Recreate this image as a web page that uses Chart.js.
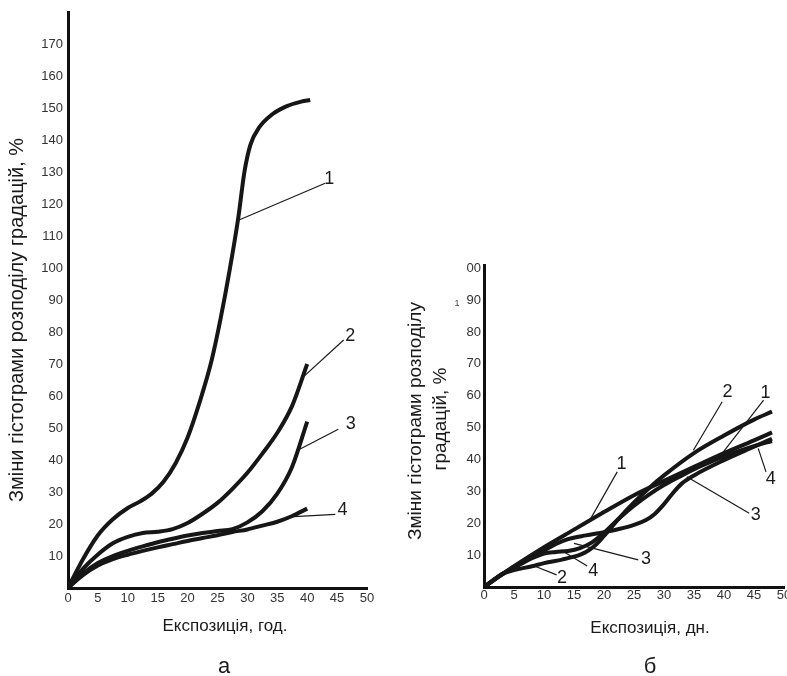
<!DOCTYPE html>
<html>
<head>
<meta charset="utf-8">
<script src="https://cdn.jsdelivr.net/npm/chart.js@4"></script>
<style>
  html, body { margin: 0; padding: 0; background: #fff; overflow: hidden; width: 787px; height: 676px; }
  #chart-a { position: absolute; left: 0; top: 0; }
  #chart-b { position: absolute; left: 395px; top: 0; }
</style>
</head>
<body>
<canvas id="chart-a" width="395" height="676"></canvas>
<canvas id="chart-b" width="396" height="676"></canvas>
<script>
// Shared tick values
const xTicks = [0, 5, 10, 15, 20, 25, 30, 35, 40, 45, 50];
const yTicksA = [10, 20, 30, 40, 50, 60, 70, 80, 90, 100, 110, 120, 130, 140, 150, 160, 170];
const yTicksB = [10, 20, 30, 40, 50, 60, 70, 80, 90, 100];

// Panel "а": exposure in hours
const a1x = [0, 2.5, 5, 7.5, 10, 12, 14, 16, 18, 20, 22, 24, 25.5, 27, 28.5, 29.5, 30.5, 32, 34, 36.5, 39, 40.5];
const a1y = [0, 9, 16.5, 21.5, 25, 27, 29.5, 33.3, 39, 47, 58, 71, 84, 99, 116, 130, 138.5, 144, 147.8, 150.5, 152, 152.5];
const a2x = [0, 2.5, 5, 7.5, 10, 12.5, 15, 17.5, 20, 22.5, 25, 27.5, 30, 32.5, 35, 37.5, 40];
const a2y = [0, 6, 10.5, 14, 16, 17.2, 17.6, 18.4, 20.3, 23.2, 26.6, 31, 36, 42, 48.5, 57, 70];
const a3x = [0, 2.5, 5, 7.5, 10, 12.5, 15, 17.5, 20, 22.5, 25, 27.5, 30, 32.5, 35, 37.5, 40];
const a3y = [0, 4.5, 7.8, 10, 11.6, 13, 14.3, 15.4, 16.4, 17.2, 17.8, 18.4, 20.5, 24, 29.5, 38, 52];
const a4x = [0, 2.5, 5, 7.5, 10, 12.5, 15, 17.5, 20, 22.5, 25, 27.5, 30, 32.5, 35, 37.5, 40];
const a4y = [0, 4, 7, 9, 10.4, 11.6, 12.7, 13.7, 14.7, 15.6, 16.5, 17.5, 18.3, 19.5, 20.7, 22.5, 24.8];

// Panel "б": exposure in days
const b1x = [0, 5, 10, 15, 20, 25, 30, 35, 40, 45, 48];
const b1y = [0, 6.5, 12.5, 18, 23.5, 28.8, 33.3, 37.7, 42, 46, 48.5];
const b2x = [0, 3, 5, 8, 10, 13, 15, 17, 18.5, 20, 22.5, 25, 27.5, 30, 35, 40, 45, 48];
const b2y = [0, 4, 5.3, 6.5, 7.5, 8.6, 9.5, 11, 13, 16, 21.5, 26.5, 31, 35, 42, 47.5, 52.5, 55];
const b3x = [0, 3, 5, 8, 10, 12, 14, 17, 20, 22.5, 25, 27, 28.5, 30, 31.5, 33, 35, 40, 45, 48];
const b3y = [0, 4, 6.2, 9.5, 11.5, 13.5, 15, 16.2, 17.2, 18.2, 19.5, 21, 23, 26, 29.5, 32.5, 35, 39.8, 44, 46.5];
const b4x = [0, 3, 5, 8, 10, 12, 14, 16, 18, 20, 22.5, 25, 27.5, 30, 33, 36, 40, 45, 48];
const b4y = [0, 4, 6, 9, 10.5, 11, 11.3, 12.2, 14, 17, 21.5, 25.5, 29, 32, 35, 37.8, 41, 44.2, 45.8];

// Curve numbers with leader lines (data units)
const notesA = [
    { text: '1', from: [28.6, 115], to: [43.0, 126.5], at: [43.7, 127.8] },
    { text: '2', from: [38.9, 65.2], to: [46.1, 77.5], at: [47.2, 78.6] },
    { text: '3', from: [38.5, 43.1], to: [45.2, 49.6], at: [47.3, 51.1] },
    { text: '4', from: [37.8, 22.3], to: [44.7, 23.0], at: [45.9, 24.4] },
];
const notesB = [
    { text: '1', from: [17.5, 20.5], to: [22.2, 36.1], at: [22.9, 38.6] },
    { text: '2', from: [34.9, 42.9], to: [39.7, 58.1], at: [40.6, 61.2] },
    { text: '1', from: [39.7, 41.9], to: [46.6, 58.6], at: [46.9, 60.7] },
    { text: '4', from: [45.7, 43.5], to: [47.0, 36.1], at: [47.8, 33.9] },
    { text: '3', from: [33.8, 34.6], to: [44.2, 23.1], at: [45.3, 22.6] },
    { text: '3', from: [15.0, 13.7], to: [25.7, 8.5], at: [27.0, 8.8] },
    { text: '4', from: [12.8, 11.6], to: [17.2, 6.6], at: [18.2, 5.0] },
    { text: '2', from: [8.4, 6.6], to: [12.1, 3.8], at: [13.0, 2.7] },
];

const FONT = '"Liberation Sans", Arial, Helvetica, sans-serif';
Chart.defaults.font.family = FONT;

function points(xs, ys) {
    return xs.map((x, i) => ({ x: x, y: ys[i] }));
}

// Draws leader lines, curve numbers and free-standing captions
const notesPlugin = {
    id: 'notes',
    afterDraw(chart, args, opts) {
        const { ctx } = chart;
        const xs = chart.scales.x, ys = chart.scales.y;
        ctx.save();
        ctx.strokeStyle = '#1a1a1a';
        ctx.fillStyle = '#1a1a1a';
        ctx.lineWidth = 1.2;
        ctx.font = '18px ' + FONT;
        ctx.textAlign = 'center';
        ctx.textBaseline = 'middle';
        for (const n of opts.items) {
            ctx.beginPath();
            ctx.moveTo(xs.getPixelForValue(n.from[0]), ys.getPixelForValue(n.from[1]));
            ctx.lineTo(xs.getPixelForValue(n.to[0]), ys.getPixelForValue(n.to[1]));
            ctx.stroke();
            ctx.fillText(n.text, xs.getPixelForValue(n.at[0]), ys.getPixelForValue(n.at[1]));
        }
        ctx.textBaseline = 'alphabetic';
        for (const t of opts.captions) {
            ctx.save();
            ctx.fillStyle = t.color || '#1a1a1a';
            ctx.font = t.size + 'px ' + FONT;
            ctx.translate(t.x, t.y);
            if (t.rotate) ctx.rotate(-Math.PI / 2);
            ctx.fillText(t.text, 0, 0);
            ctx.restore();
        }
        ctx.restore();
    }
};

function makeChart(canvasId, curves, yMax, yTicks, sizes, notes, captions, yLabel) {
    const lineStyle = {
        borderColor: '#161616',
        borderWidth: 4,
        pointRadius: 0,
        fill: false,
        cubicInterpolationMode: 'monotone',
    };
    return new Chart(canvasId, {
        type: 'line',
        data: {
            datasets: curves.map((c, i) => Object.assign({ label: String(i + 1), data: c }, lineStyle)),
        },
        options: {
            responsive: false,
            animation: false,
            events: [],
            layout: { padding: sizes.padding },
            plugins: {
                legend: { display: false },
                tooltip: { enabled: false },
                notes: { items: notes, captions: captions },
            },
            scales: {
                x: {
                    type: 'linear',
                    min: 0,
                    max: 50,
                    afterBuildTicks: s => { s.ticks = xTicks.map(v => ({ value: v })); },
                    afterFit: s => {
                        s.height = sizes.xHeight;
                        s.paddingLeft = 0; s.paddingRight = 0;
                    },
                    grid: { display: false, drawTicks: false },
                    border: { display: true, color: '#111', width: 3 },
                    ticks: { autoSkip: false, maxRotation: 0, padding: sizes.xPad, color: '#333', font: { size: 13 } },
                },
                y: {
                    type: 'linear',
                    min: 0,
                    max: yMax,
                    afterBuildTicks: s => { s.ticks = yTicks.map(v => ({ value: v })); },
                    afterFit: s => {
                        s.width = sizes.yWidth;
                        s.paddingTop = 0; s.paddingBottom = 0;
                    },
                    grid: { display: false, drawTicks: false },
                    border: { display: true, color: '#111', width: 3 },
                    ticks: {
                        autoSkip: false,
                        padding: sizes.yPad,
                        color: '#333',
                        font: { size: 13 },
                        callback: yLabel,
                    },
                },
            },
        },
        plugins: [notesPlugin],
    });
}

makeChart('chart-a',
    [points(a1x, a1y), points(a2x, a2y), points(a3x, a3y), points(a4x, a4y)],
    180, yTicksA,
    { padding: { top: 12, right: 28, left: 0, bottom: 0 }, xHeight: 88, yWidth: 68, xPad: 3, yPad: 5 },
    notesA,
    [
        { text: 'Зміни гістограми розподілу градацій, %', x: 23, y: 320, size: 20, rotate: true },
        { text: 'Експозиція, год.', x: 225, y: 631, size: 17 },
        { text: 'а', x: 224, y: 673, size: 22 },
    ],
    v => v
);

makeChart('chart-b',
    [points(b1x, b1y), points(b2x, b2y), points(b3x, b3y), points(b4x, b4y)],
    101, yTicksB,
    { padding: { top: 265, right: 7, left: 0, bottom: 0 }, xHeight: 89, yWidth: 89, xPad: 1, yPad: 3 },
    notesB,
    [
        { text: 'Зміни гістограми розподілу', x: 26, y: 421, size: 19, rotate: true },
        { text: 'градацій, %', x: 51, y: 419, size: 19, rotate: true },
        { text: 'Експозиція, дн.', x: 255, y: 633, size: 17 },
        { text: 'б', x: 255, y: 673, size: 22 },
        { text: '1', x: 62, y: 306, size: 9, color: '#444' },
    ],
    v => (v === 100 ? '00' : v)
);
</script>
</body>
</html>
